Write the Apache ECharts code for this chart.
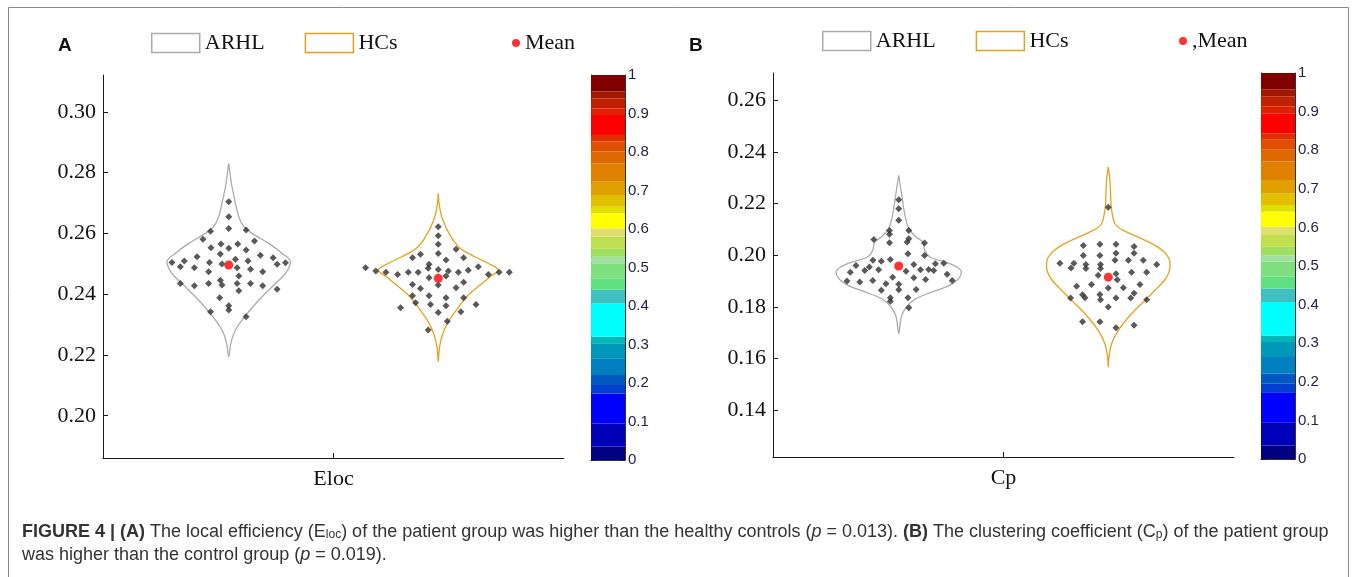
<!DOCTYPE html>
<html><head><meta charset="utf-8">
<script src="https://cdn.jsdelivr.net/npm/echarts@6/dist/echarts.min.js"></script>
<style>html,body{margin:0;padding:0;background:#fff}#c{width:1357px;height:577px}</style>
</head><body><div id="c"></div><script>
// ---------- DATA ----------
const groupPos = [1, 2];            // ARHL, HCs positions on the x axis
const centerTick = [1.5];
const elocTicks = [0.20, 0.22, 0.24, 0.26, 0.28, 0.30];
const cpTicks = [0.14, 0.16, 0.18, 0.20, 0.22, 0.24, 0.26];

// Eloc, ARHL
const elocArhlVals = [0.2704,0.2655,0.2616,0.2607,0.2611,0.2581,0.2575,0.2553,0.2565,0.2565,0.2551,0.2545,0.2523,0.2532,0.2515,0.2528,0.2520,0.2504,0.2509,0.2490,0.2487,0.2504,0.2499,0.2509,0.2498,0.2503,0.2487,0.2474,0.2482,0.2474,0.2460,0.2435,0.2428,0.2435,0.2446,0.2430,0.2435,0.2435,0.2428,0.2416,0.2411,0.2388,0.2362,0.2348,0.2342,0.2326];
const elocArhlJitter = [0,0,0,-0.087,0.083,-0.123,0.123,-0.085,-0.037,0.043,0,0.083,-0.151,-0.040,0.032,0.151,0.212,-0.271,-0.212,-0.231,-0.164,-0.092,-0.032,0.092,0.231,0.271,0.040,-0.096,0.104,0.162,0.048,-0.231,-0.164,-0.096,-0.040,-0.032,0.040,0.104,0.162,0.231,0.048,-0.043,0,0,-0.087,0.083];
// Eloc, HCs
const elocHcVals = [0.2622,0.2592,0.2564,0.2548,0.2520,0.2531,0.2520,0.2534,0.2498,0.2512,0.2485,0.2487,0.2476,0.2472,0.2465,0.2472,0.2472,0.2481,0.2476,0.2472,0.2479,0.2490,0.2465,0.2472,0.2472,0.2454,0.2460,0.2430,0.2432,0.2419,0.2421,0.2439,0.2395,0.2372,0.2395,0.2388,0.2388,0.2366,0.2362,0.2366,0.2355,0.2340,0.2342,0.2311,0.2282];
const elocHcJitter = [0,0,0,0.085,-0.123,-0.085,0.121,0,-0.044,0.037,-0.048,-0.347,-0.298,-0.250,-0.194,-0.143,-0.096,0,0.048,0.096,0.143,0.191,0.239,0.290,0.339,-0.044,0.037,0,-0.123,-0.085,0.085,0.121,-0.123,-0.108,-0.044,0.037,0.121,-0.037,0.037,0.180,-0.180,0,0.108,0.043,-0.048];
// Cp, ARHL
const cpArhlVals = [0.2215,0.2180,0.2135,0.2096,0.2081,0.2096,0.2061,0.2048,0.2064,0.2051,0.2047,0.2006,0.1999,0.1980,0.1960,0.1954,0.1977,0.1983,0.1964,0.1967,0.1969,0.1934,0.1941,0.1944,0.1938,0.1944,0.1945,0.1941,0.1926,0.1900,0.1896,0.1902,0.1915,0.1913,0.1906,0.1902,0.1889,0.1887,0.1864,0.1866,0.1867,0.1835,0.1822,0.1835,0.1796];
const cpArhlJitter = [0,0,0,-0.044,-0.044,0.048,-0.119,-0.044,0.048,0.040,0.123,0.044,0.123,-0.123,-0.204,-0.140,-0.083,-0.040,0.072,0.175,0.215,-0.231,-0.162,-0.096,0.035,0.104,0.143,0.167,0.231,-0.247,-0.186,-0.124,-0.029,0.072,0.128,0.255,-0.061,0,-0.083,0,0.083,-0.040,-0.040,0.044,0.048];
// Cp, HCs
const cpHcVals = [0.2186,0.2038,0.2042,0.2042,0.2034,0.1999,0.1999,0.2008,0.2008,0.1969,0.1969,0.1950,0.1964,0.1948,0.1964,0.1948,0.1980,0.1980,0.1980,0.1964,0.1922,0.1928,0.1934,0.1934,0.1905,0.1880,0.1886,0.1873,0.1874,0.1886,0.1834,0.1847,0.1835,0.1848,0.1827,0.1834,0.1834,0.1853,0.1827,0.1799,0.1742,0.1742,0.1719,0.1729];
const cpHcJitter = [0,-0.119,-0.040,0.037,0.123,-0.119,-0.040,0.037,0.123,-0.231,-0.164,-0.178,-0.107,-0.107,-0.037,-0.037,0.032,0.096,0.167,0.231,-0.048,0.037,0.111,0.183,0.043,-0.151,-0.080,0,0.072,0.151,-0.180,-0.123,-0.111,-0.040,-0.037,0.037,0.107,0.123,0.183,0,-0.123,-0.040,0.037,0.123];

const elocMeans = [0.2496, 0.2452];
const cpMeans = [0.1958, 0.1915];

// violin outlines: level values and density half-widths
const elocArhlLevels = [0.2830,0.2764,0.2709,0.2655,0.2622,0.2600,0.2567,0.2534,0.2507,0.2468,0.2435,0.2380,0.2326,0.2282,0.2238,0.2194];
const elocArhlDensity = [0,0.013,0.029,0.048,0.072,0.111,0.191,0.255,0.295,0.271,0.223,0.143,0.076,0.032,0.010,0];
const elocHcLevels = [0.2732,0.2693,0.2649,0.2594,0.2551,0.2523,0.2501,0.2479,0.2457,0.2430,0.2397,0.2353,0.2309,0.2265,0.2222,0.2178];
const elocHcDensity = [0,0.005,0.019,0.056,0.104,0.175,0.239,0.287,0.247,0.199,0.143,0.092,0.048,0.019,0.005,0];
const cpArhlLevels = [0.2309,0.2225,0.2161,0.2103,0.2070,0.2051,0.2019,0.1993,0.1973,0.1954,0.1935,0.1902,0.1876,0.1857,0.1831,0.1799,0.1760,0.1696];
const cpArhlDensity = [0,0.016,0.028,0.048,0.084,0.115,0.124,0.148,0.223,0.277,0.299,0.277,0.224,0.158,0.081,0.036,0.012,0];
const cpHcLevels = [0.2341,0.2290,0.2200,0.2174,0.2122,0.2096,0.2070,0.2038,0.2006,0.1967,0.1935,0.1902,0.1864,0.1825,0.1773,0.1709,0.1657,0.1605,0.1566];
const cpHcDensity = [0,0.008,0.013,0.016,0.032,0.072,0.143,0.223,0.274,0.295,0.290,0.267,0.223,0.175,0.111,0.048,0.016,0.003,0];

// colour bar (bottom -> top)
const cbBounds = [0,0.035,0.095,0.173,0.195,0.221,0.264,0.303,0.320,0.407,0.442,0.472,0.511,0.528,0.550,0.580,0.602,0.641,0.658,0.688,0.723,0.771,0.801,0.827,0.844,0.896,0.913,0.939,0.957,1.0];
const cbColors = ['#000080','#0000b8','#0000ff','#0040d0','#0058c0','#0080c0','#0098b8','#00b8b8','#00ffff','#40c0c0','#60e080','#80e080','#a0e0a0','#a0e060','#c0e050','#e0e070','#ffff00','#e0e000','#e0c000','#e0a000','#e08000','#e06800','#e05000','#e03000','#ff0000','#e02000','#c02000','#a01800','#800000'];

// ---------- BUILD ----------
const GRAY = '#ababab', ORANGE = '#e6a21e', PT = '#2f2f2f';
const serif = 'Liberation Serif', sans = 'Liberation Sans';

function violin(center, levels, dens) {
  const right = levels.map((v, i) => [center + dens[i], v]);
  const left = levels.map((v, i) => [center - dens[i], v]).reverse();
  return right.concat(left);
}
function pts(center, vals, jit) { return vals.map((v, i) => [center + jit[i], v]); }

const series = [];
function panel(ax, lv1, d1, lv2, d2, v1, j1, v2, j2, means) {
  series.push({ name: 'ARHL', type: 'line', xAxisIndex: ax, yAxisIndex: ax, data: violin(groupPos[0], lv1, d1),
    symbol: 'none', smooth: 0.3, lineStyle: { color: GRAY, width: 1.3 }, itemStyle: { color: GRAY }, z: 2 });
  series.push({ name: 'HCs', type: 'line', xAxisIndex: ax, yAxisIndex: ax, data: violin(groupPos[1], lv2, d2),
    symbol: 'none', smooth: 0.3, lineStyle: { color: ORANGE, width: 1.3 }, itemStyle: { color: ORANGE }, z: 2 });
  series.push({ name: 'ARHL values', type: 'scatter', xAxisIndex: ax, yAxisIndex: ax, data: pts(groupPos[0], v1, j1),
    symbol: 'diamond', symbolSize: 7, itemStyle: { color: PT }, z: 3 });
  series.push({ name: 'HCs values', type: 'scatter', xAxisIndex: ax, yAxisIndex: ax, data: pts(groupPos[1], v2, j2),
    symbol: 'diamond', symbolSize: 7, itemStyle: { color: PT }, z: 3 });
  series.push({ name: 'Mean', type: 'scatter', xAxisIndex: ax, yAxisIndex: ax,
    data: groupPos.map((p, i) => [p, means[i]]), symbol: 'circle', symbolSize: 9, itemStyle: { color: '#ff0000' }, z: 4 });
}
panel(0, elocArhlLevels, elocArhlDensity, elocHcLevels, elocHcDensity, elocArhlVals, elocArhlJitter, elocHcVals, elocHcJitter, elocMeans);
panel(1, cpArhlLevels, cpArhlDensity, cpHcLevels, cpHcDensity, cpArhlVals, cpArhlJitter, cpHcVals, cpHcJitter, cpMeans);

[[2, 2, 'cbA'], [4, 4, 'cbB']].forEach(([xi, yi, st]) => {
  cbColors.forEach((c, i) => {
    series.push({ type: 'bar', stack: st, xAxisIndex: xi, yAxisIndex: yi, barWidth: '100%',
      data: [cbBounds[i + 1] - cbBounds[i]], itemStyle: { color: c }, silent: true });
  });
});

const AX = '#1a1a1a';
function plotX(gi, label) {
  return { type: 'value', gridIndex: gi, min: 0.4, max: 2.6, splitLine: { show: false },
    axisLine: { lineStyle: { color: AX, width: 1 } },
    axisTick: { inside: true, length: 5, customValues: centerTick, lineStyle: { color: AX } },
    axisLabel: { customValues: centerTick, formatter: () => label, margin: 10, color: '#111', fontFamily: serif, fontSize: 22 } };
}
function plotY(gi, min, max, ticks) {
  return { type: 'value', gridIndex: gi, min: min, max: max, splitLine: { show: false },
    axisLine: { show: true, lineStyle: { color: AX, width: 1 } },
    axisTick: { show: true, inside: true, length: 5, customValues: ticks, lineStyle: { color: AX } },
    axisLabel: { customValues: ticks, formatter: v => v.toFixed(2), margin: 7, color: '#111', fontFamily: serif, fontSize: 22 } };
}
function cbX(gi, pos) {
  return { type: 'category', gridIndex: gi, position: pos, data: ['c'], boundaryGap: true,
    axisLine: { show: true, lineStyle: { color: '#333' } }, axisTick: { show: false }, axisLabel: { show: false } };
}
function cbY(gi, pos, labels) {
  return { type: 'value', gridIndex: gi, position: pos, min: 0, max: 1, interval: 0.1, splitLine: { show: false },
    axisLine: { show: true, lineStyle: { color: '#333' } },
    axisTick: { show: true, inside: true, length: 5, lineStyle: { color: '#222' } },
    axisLabel: { show: labels, margin: 3, color: '#23234a', fontFamily: sans, fontSize: 15 } };
}

function legendBox(name, color) {
  return { name: name, icon: 'rect', itemStyle: { color: 'rgba(0,0,0,0)', borderColor: color, borderWidth: 1.5 } };
}
const legTxt = { fontFamily: serif, fontSize: 22, color: '#111' };

const option = {
  animation: false,
  backgroundColor: '#fff',
  title: [
    { text: 'A', left: 53, top: 31, textStyle: { fontFamily: sans, fontWeight: 'bold', fontSize: 19, color: '#111' } },
    { text: 'B', left: 684, top: 31, textStyle: { fontFamily: sans, fontWeight: 'bold', fontSize: 19, color: '#111' } }
  ],
  legend: [
    { left: 151, top: 32, itemWidth: 48, itemHeight: 19, itemGap: 40, padding: 0, selectedMode: false, textStyle: legTxt,
      data: [legendBox('ARHL', GRAY), legendBox('HCs', ORANGE)] },
    { left: 512, top: 32, itemWidth: 8, itemHeight: 8, padding: 0, selectedMode: false, textStyle: legTxt,
      data: [{ name: 'Mean', icon: 'circle', itemStyle: { color: '#ff0000' } }] },
    { left: 822, top: 30, itemWidth: 48, itemHeight: 19, itemGap: 40, padding: 0, selectedMode: false, textStyle: legTxt,
      data: [legendBox('ARHL', GRAY), legendBox('HCs', ORANGE)] },
    { left: 1179, top: 30, itemWidth: 8, itemHeight: 8, padding: 0, selectedMode: false, textStyle: legTxt,
      formatter: () => ',Mean', data: [{ name: 'Mean', icon: 'circle', itemStyle: { color: '#ff0000' } }] }
  ],
  grid: [
    { left: 103, top: 75, width: 461, height: 383 },
    { left: 773, top: 73, width: 461, height: 384 },
    { left: 591, top: 75, width: 34, height: 385 },
    { left: 1261, top: 73, width: 34, height: 386 }
  ],
  xAxis: [plotX(0, 'Eloc'), plotX(1, 'Cp'), cbX(2, 'bottom'), cbX(2, 'top'), cbX(3, 'bottom'), cbX(3, 'top')],
  yAxis: [plotY(0, 0.1861, 0.3121, elocTicks), plotY(1, 0.1218, 0.2706, cpTicks),
    cbY(2, 'left', false), cbY(2, 'right', true), cbY(3, 'left', false), cbY(3, 'right', true)],
  series: series,
  graphic: [
    { type: 'rect', shape: { x: 8.5, y: 7.5, width: 1340, height: 600 }, style: { fill: 'none', stroke: '#8a8a8a', lineWidth: 1 }, silent: true },
    { type: 'text', left: 22, top: 523, style: {
        text: '{b|FIGURE 4 | (A)} The local efficiency (E{s|loc}) of the patient group was higher than the healthy controls ({i|p} = 0.013). {b|(B)} The clustering coefficient (C{s|p}) of the patient group',
        fontFamily: sans, fontSize: 18, fill: '#333',
        rich: { b: { fontFamily: sans, fontWeight: 'bold', fontSize: 18, fill: '#333' }, i: { fontFamily: sans, fontStyle: 'italic', fontSize: 18, fill: '#333' },
                s: { fontFamily: sans, fontSize: 12, fill: '#333', verticalAlign: 'bottom', lineHeight: 16 } } } },
    { type: 'text', left: 22, top: 546, style: {
        text: 'was higher than the control group ({i|p} = 0.019).', fontFamily: sans, fontSize: 18, fill: '#333',
        rich: { i: { fontFamily: sans, fontStyle: 'italic', fontSize: 18, fill: '#333' } } } }
  ]
};
const chart = echarts.init(document.getElementById('c'), null, { renderer: 'canvas' });
chart.setOption(option);
</script></body></html>
